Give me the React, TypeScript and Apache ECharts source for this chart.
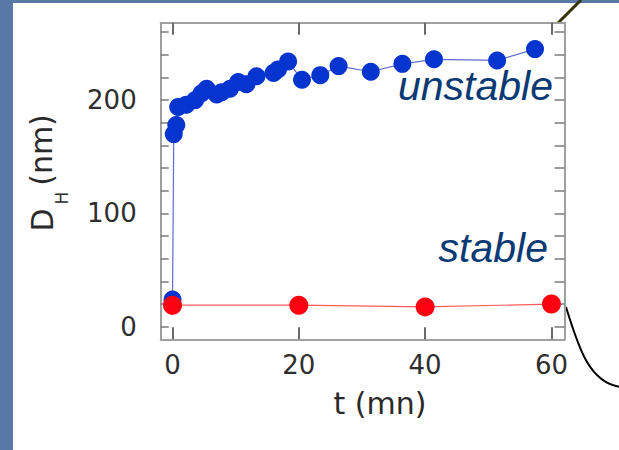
import React, { useEffect, useRef } from 'react';
import * as echarts from 'echarts';

// Unstable sample: hydrodynamic diameter over time
const unstableT = [0, 0.2, 0.6, 0.9, 2.2, 3.6, 4.6, 5.4, 7.0, 7.8, 9.1, 10.4, 11.7, 13.3, 16.0, 16.7, 18.3, 20.5, 23.4, 26.3, 31.4, 36.4, 41.4, 51.4, 57.4];
const unstableD = [24, 170, 178, 194, 196, 200, 206, 210, 205, 207, 210, 216, 214, 221, 224, 227, 234, 218, 222, 230, 225, 232, 236, 235, 245];
// Stable sample
const stableT = [0, 20, 40, 60];
const stableD = [19, 19, 17.5, 20];

const xTickValues = [0, 20, 40, 60];
const yLabelValues = [0, 100, 200];
const yTickValues = [0, 20, 40, 60, 80, 100, 120, 140, 160, 180, 200, 220, 240, 260];

const X_MIN = -1.87;
const X_MAX = 62.07;
const Y_MIN = -11.1;
const Y_MAX = 268.3;

export default function App() {
  const ref = useRef<HTMLDivElement>(null);
  useEffect(() => {
    if (!ref.current) return;
    const chart = echarts.init(ref.current, null, { renderer: 'svg' });
    const tickFont = { fontFamily: 'DejaVu Sans', fontSize: 26, color: '#2e2e2e' };
    const mkLine = () => ({ show: true, onZero: false, lineStyle: { color: '#a0a0a0', width: 2 } });
    const mkTick = (len: number, vals: number[]) => ({
      show: true, inside: true, length: len, customValues: vals,
      lineStyle: { color: '#7a7a7a', width: 1.5 },
    });
    const unstable = unstableT.map((t, i) => [t, unstableD[i]]);
    const stable = stableT.map((t, i) => [t, stableD[i]]);
    // tick length of 12px expressed in data units of the y scale
    const tickLenY = (12 / (450 - 22.7 - 110.7)) * (Y_MAX - Y_MIN);
    const xTickLines: any[] = [];
    xTickValues.forEach((v) => {
      xTickLines.push([{ coord: [v, Y_MIN] }, { coord: [v, Y_MIN + tickLenY] }]);
      xTickLines.push([{ coord: [v, Y_MAX] }, { coord: [v, Y_MAX - tickLenY] }]);
    });
    chart.setOption({
      animation: false,
      grid: {
        left: 160.7,
        right: 54.5,
        top: 22.7,
        bottom: 110.7,
        show: false,
      },
      xAxis: [
        {
          type: 'value',
          min: X_MIN,
          max: X_MAX,
          position: 'bottom',
          axisLine: mkLine(),
          splitLine: { show: false },
          axisTick: { show: false },
          axisLabel: { customValues: xTickValues, margin: 13, ...tickFont },
        },
        {
          type: 'value',
          min: X_MIN,
          max: X_MAX,
          position: 'top',
          axisLine: mkLine(),
          splitLine: { show: false },
          axisTick: { show: false },
          axisLabel: { show: true, customValues: xTickValues, formatter: () => '' },
        },
      ],
      yAxis: [
        {
          type: 'value',
          min: Y_MIN,
          max: Y_MAX,
          position: 'left',
          axisLine: mkLine(),
          splitLine: { show: false },
          axisTick: mkTick(8, yTickValues),
          axisLabel: { customValues: yLabelValues, margin: 24, ...tickFont },
        },
        {
          type: 'value',
          min: Y_MIN,
          max: Y_MAX,
          position: 'right',
          axisLine: mkLine(),
          splitLine: { show: false },
          axisTick: mkTick(10, yTickValues),
          axisLabel: { show: true, customValues: yLabelValues, formatter: () => '' },
        },
      ],
      series: [
        {
          type: 'line',
          data: unstable,
          symbol: 'circle',
          symbolSize: 18,
          itemStyle: { color: '#0634cf' },
          lineStyle: { color: '#5b6fd0', width: 1.2 },
          z: 2,
        },
        {
          type: 'line',
          data: stable,
          symbol: 'circle',
          symbolSize: 19,
          itemStyle: { color: '#ff0010' },
          lineStyle: { color: '#ff5a5a', width: 1.2 },
          z: 3,
        },
        {
          // binds the mirrored (top/right) axes; also carries the x-axis tick marks
          type: 'line',
          data: stable,
          symbol: 'none',
          silent: true,
          lineStyle: { opacity: 0 },
          z: 1,
          markLine: {
            silent: true,
            symbol: ['none', 'none'],
            label: { show: false },
            lineStyle: { color: '#6a6a6a', width: 2, type: 'solid', opacity: 1 },
            emphasis: { disabled: true },
            data: xTickLines,
          },
        },
        {
          type: 'line',
          xAxisIndex: 1,
          yAxisIndex: 1,
          data: stable,
          symbol: 'none',
          silent: true,
          lineStyle: { opacity: 0 },
        },
      ],
      graphic: [
        {
          type: 'text', x: 553, y: 86, z: 10,
          style: { text: 'unstable', align: 'right', verticalAlign: 'middle', fontFamily: 'Liberation Sans', fontStyle: 'italic', fontSize: 41, fill: '#0a3a74' },
        },
        {
          type: 'text', x: 548, y: 248, z: 10,
          style: { text: 'stable', align: 'right', verticalAlign: 'middle', fontFamily: 'Liberation Sans', fontStyle: 'italic', fontSize: 41, fill: '#0a3a74' },
        },
        {
          type: 'text', x: 380, y: 403,
          style: { text: 't (mn)', align: 'center', verticalAlign: 'middle', fontFamily: 'DejaVu Sans', fontSize: 30, fill: '#2a2a2a' },
        },
        {
          type: 'text', x: 42.5, y: 220, rotation: Math.PI / 2,
          style: { text: 'D', align: 'center', verticalAlign: 'middle', fontFamily: 'DejaVu Sans', fontSize: 30, fill: '#2a2a2a' },
        },
        {
          type: 'text', x: 61.5, y: 198, rotation: Math.PI / 2,
          style: { text: 'H', align: 'center', verticalAlign: 'middle', fontFamily: 'DejaVu Sans', fontSize: 17, fill: '#2a2a2a' },
        },
        {
          type: 'text', x: 41, y: 150, rotation: Math.PI / 2,
          style: { text: '(nm)', align: 'center', verticalAlign: 'middle', fontFamily: 'DejaVu Sans', fontSize: 30, fill: '#2a2a2a' },
        },
        {
          type: 'line',
          shape: { x1: 558, y1: 23, x2: 581, y2: 0 },
          style: { stroke: '#333300', lineWidth: 3 },
        },
        {
          type: 'bezierCurve',
          shape: { x1: 566, y1: 307, cpx1: 578, cpy1: 345, cpx2: 588, cpy2: 382, x2: 620, y2: 387 },
          style: { stroke: '#000000', lineWidth: 2, fill: 'none' },
        },
      ],
    });
    return () => chart.dispose();
  }, []);

  return (
    <div style={{ position: 'fixed', left: 0, top: 0, width: 619, height: 450, background: '#5878a6', overflow: 'hidden' }}>
      <div style={{ position: 'absolute', left: 13, top: 3, right: 0, bottom: 0, background: '#ffffff' }} />
      <div ref={ref} style={{ position: 'absolute', left: 0, top: 0, width: 619, height: 450 }} />
    </div>
  );
}
